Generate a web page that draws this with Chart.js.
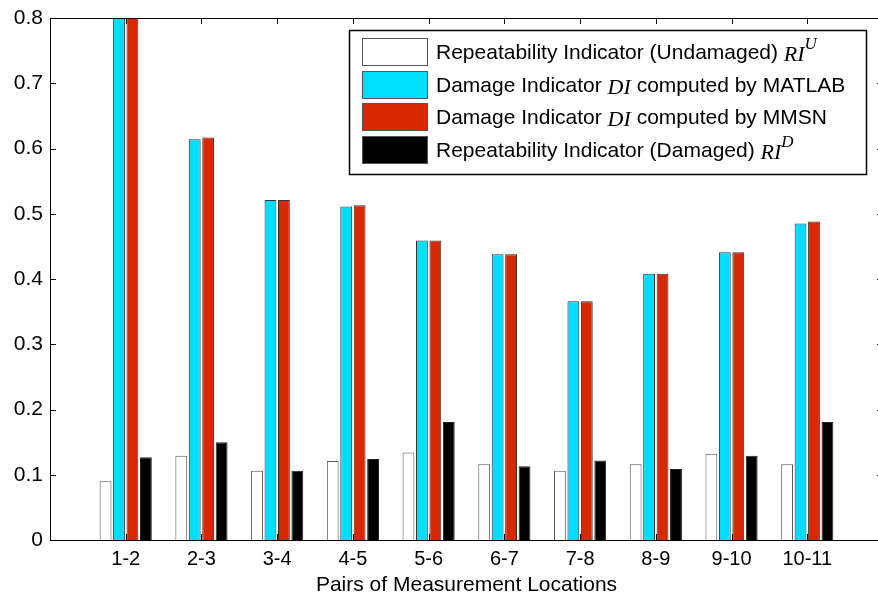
<!DOCTYPE html>
<html lang="en">
<head>
  <meta charset="UTF-8">
  <title>Repeatability and Damage Indicators</title>
  <script src="https://cdn.jsdelivr.net/npm/chart.js"></script>
  <style>
    html, body { margin: 0; padding: 0; background: #fff; overflow: hidden; }
    /* plot box runs a few px past the right edge, like the original figure */
    #chartContainer { width: 886px; height: 598px; }
  </style>
</head>
<body>
  <div id="chartContainer">
    <canvas id="diChart"></canvas>
  </div>

  <script>
    // data
    const pairs = ['1-2', '2-3', '3-4', '4-5', '5-6', '6-7', '7-8', '8-9', '9-10', '10-11'];
    const riUndamaged = [0.090, 0.129, 0.106, 0.121, 0.134, 0.116, 0.106, 0.116, 0.132, 0.116];
    const diMatlab = [0.85, 0.614, 0.521, 0.511, 0.459, 0.438, 0.366, 0.408, 0.441, 0.485];
    const diMmsn = [0.85, 0.617, 0.521, 0.513, 0.459, 0.438, 0.366, 0.408, 0.441, 0.488];
    const riDamaged = [0.127, 0.150, 0.106, 0.124, 0.181, 0.113, 0.122, 0.109, 0.129, 0.181];
    const yTicks = [0, 0.1, 0.2, 0.3, 0.4, 0.5, 0.6, 0.7, 0.8];

    // legend text pieces: [text, style]  (n = normal, i = italic math, s = superscript)
    const legendParts = [
      [['Repeatability Indicator (Undamaged) ', 'n'], ['RI', 'i'], ['U', 's']],
      [['Damage Indicator ', 'n'], ['DI', 'i'], [' computed by MATLAB', 'n']],
      [['Damage Indicator ', 'n'], ['DI', 'i'], [' computed by MMSN', 'n']],
      [['Repeatability Indicator (Damaged) ', 'n'], ['RI', 'i'], ['D', 's']]
    ];

    const FONT = '"Liberation Sans", Arial, sans-serif';
    const MATH = '"Liberation Serif", "Times New Roman", serif';

    // empty slot on each side so the axis runs from 0 to 11 like MATLAB
    const pad = arr => [null, ...arr, null];
    const labels = ['', ...pairs, ''];

    function makeSet(label, data, fill, border) {
      return {
        label: label,
        data: pad(data),
        backgroundColor: fill,
        borderColor: border,
        borderWidth: 1,
        clip: 0,
        categoryPercentage: 0.71,
        barPercentage: 0.88
      };
    }

    const matlabAxes = {
      id: 'matlabAxes',
      afterDatasetsDraw(chart) {
        const { ctx, chartArea: a, scales } = chart;
        ctx.save();
        ctx.strokeStyle = '#000';
        ctx.lineWidth = 1;
        ctx.strokeRect(Math.round(a.left) + 0.5, Math.round(a.top) + 0.5,
          Math.round(a.right - a.left), Math.round(a.bottom - a.top));
        ctx.beginPath();
        yTicks.forEach(v => {
          const y = Math.round(scales.y.getPixelForValue(v)) + 0.5;
          ctx.moveTo(a.left, y); ctx.lineTo(a.left + 6, y);
          ctx.moveTo(a.right, y); ctx.lineTo(a.right - 6, y);
        });
        pairs.forEach((p, i) => {
          const x = Math.round(scales.x.getPixelForValue(i + 1)) + 0.5;
          ctx.moveTo(x, a.top); ctx.lineTo(x, a.top + 6);
          ctx.moveTo(x, a.bottom); ctx.lineTo(x, a.bottom - 6);
        });
        ctx.stroke();
        ctx.restore();
      },
      afterDraw(chart) {
        const ctx = chart.ctx;
        const box = { x: 349, y: 30, w: 517, h: 144 };
        const rows = [52, 85, 117, 150];
        ctx.save();
        ctx.fillStyle = '#fff';
        ctx.fillRect(box.x, box.y, box.w, box.h);
        ctx.strokeStyle = '#000';
        ctx.lineWidth = 1.5;
        ctx.strokeRect(box.x + 0.5, box.y + 0.5, box.w, box.h);
        chart.data.datasets.forEach((ds, i) => {
          const cy = rows[i];
          ctx.fillStyle = ds.backgroundColor;
          ctx.fillRect(362, cy - 14, 65, 28);
          ctx.strokeStyle = '#555';
          ctx.lineWidth = 1;
          ctx.strokeRect(362.5, cy - 13.5, 65, 27);
          ctx.fillStyle = '#000';
          ctx.textBaseline = 'middle';
          let x = 436;
          legendParts[i].forEach(([txt, st]) => {
            let y = cy + 1;
            if (st === 'n') ctx.font = '21px ' + FONT;
            else if (st === 'i') { ctx.font = 'italic 22px ' + MATH; y = cy + 3; }
            else { ctx.font = 'italic 17px ' + MATH; y = cy - 7; }
            ctx.fillText(txt, x, y);
            x += ctx.measureText(txt).width;
          });
        });
        ctx.restore();
      }
    };

    const ctx = document.getElementById('diChart').getContext('2d');
    const chart = new Chart(ctx, {
      type: 'bar',
      data: {
        labels: labels,
        datasets: [
          makeSet('Repeatability Indicator (Undamaged) RI^U', riUndamaged, '#ffffff', '#555555'),
          makeSet('Damage Indicator DI computed by MATLAB', diMatlab, '#00ddff', '#333333'),
          makeSet('Damage Indicator DI computed by MMSN', diMmsn, '#d82800', '#333333'),
          makeSet('Repeatability Indicator (Damaged) RI^D', riDamaged, '#000000', '#222222')
        ]
      },
      options: {
        responsive: true,
        maintainAspectRatio: false,
        animation: false,
        layout: { padding: { top: 18, right: 3, left: 0, bottom: 0 } },
        plugins: { legend: { display: false }, tooltip: { enabled: false } },
        scales: {
          x: {
            offset: false,
            grid: { display: false, drawTicks: false },
            border: { display: false },
            ticks: {
              color: '#000',
              font: { family: FONT, size: 20 },
              padding: 7,
              maxRotation: 0,
              autoSkip: false
            },
            title: {
              display: true,
              text: 'Pairs of Measurement Locations',
              color: '#000',
              font: { family: FONT, size: 21 },
              padding: { top: 0, bottom: 0 }
            },
            afterFit(scale) {
              scale.height = 58;
              scale.paddingLeft = 0;
              scale.paddingRight = 0;
            }
          },
          y: {
            min: 0,
            max: 0.8,
            grid: { display: false, drawTicks: false },
            border: { display: false },
            afterBuildTicks(scale) { scale.ticks = yTicks.map(v => ({ value: v })); },
            ticks: {
              color: '#000',
              font: { family: FONT, size: 21 },
              padding: 7,
              callback: v => (v === 0 ? '0' : v.toFixed(1))
            },
            afterFit(scale) {
              scale.width = 50;
              scale.paddingTop = 0;
              scale.paddingBottom = 0;
            }
          }
        }
      },
      plugins: [matlabAxes]
    });
  </script>
</body>
</html>
